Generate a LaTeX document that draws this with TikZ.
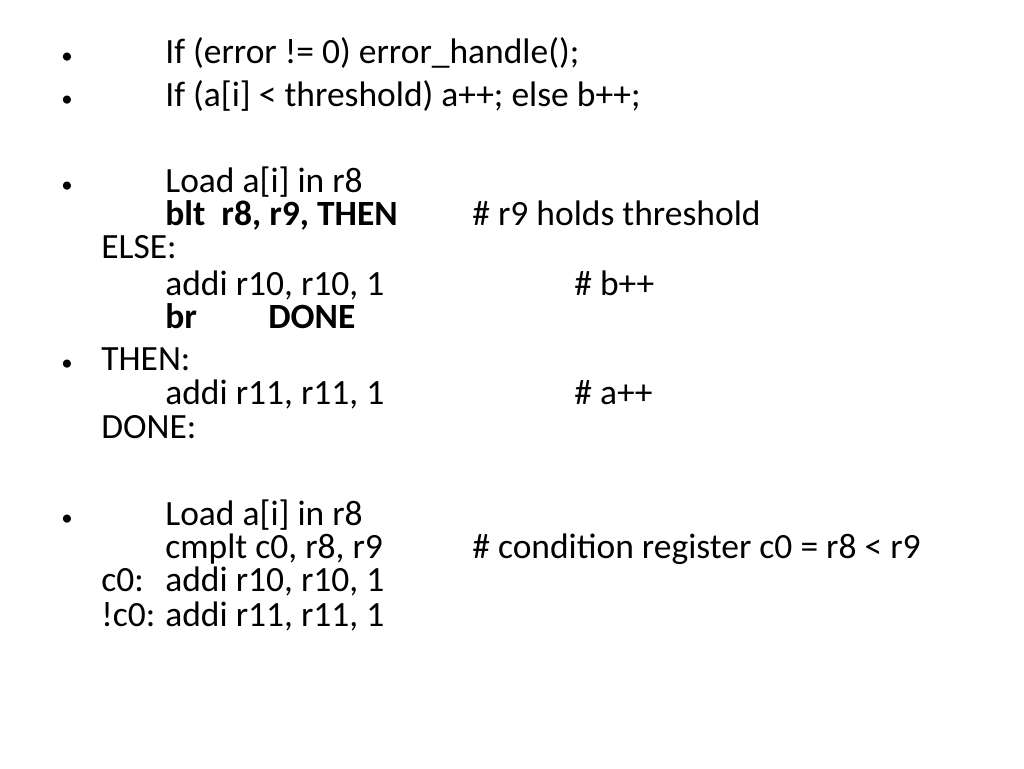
\documentclass[tikz,border=0pt]{standalone}
\usepackage{fontspec}
\setmainfont{Carlito}
\begin{document}
\begin{tikzpicture}[x=0.02cm,y=-0.02cm,
  txt/.style={anchor=base west,inner sep=0pt,font=\fontsize{20.2}{24}\selectfont},
  bul/.style={anchor=base,inner sep=0pt,font=\fontsize{13}{16}\selectfont}]
  \useasboundingbox (0,0) rectangle (1024,768);
  % bullets
  \foreach \y/\n in {63/b1,106/b2,192/b3,370/b4,525/b5}
    \node[bul] (\n) at (67,\y) {\textbullet};
  % first two lines
  \node[txt] (l1) at (165,63) {If (error != 0) error\_handle();};
  \node[txt] (l2) at (165,106) {If (a[i] < threshold) a++; else b++;};
  % branch version
  \node[txt] (ld1) at (165,192) {Load a[i] in r8};
  \node[txt] (blt) at (165,225) {\textbf{blt\ \ r8, r9, THEN}};
  \node[txt] (cm1) at (472,225) {\# r9 holds threshold};
  \node[txt] (else) at (101,258) {ELSE:};
  \node[txt] (ad1) at (165,295) {addi r10, r10, 1};
  \node[txt] (cm2) at (574,295) {\# b++};
  \node[txt] (br) at (165,328) {\textbf{br}};
  \node[txt] (done1) at (268,328) {\textbf{DONE}};
  \node[txt] (then) at (101,370) {THEN:};
  \node[txt] (ad2) at (165,404) {addi r11, r11, 1};
  \node[txt] (cm3) at (574,404) {\# a++};
  \node[txt] (done2) at (101,438) {DONE:};
  % predicated version
  \node[txt] (ld2) at (165,525) {Load a[i] in r8};
  \node[txt] (cmp) at (165,558) {cmplt c0, r8, r9};
  \node[txt] (cm4) at (472,558) {\# condition register c0 = r8 < r9};
  \node[txt] (c0) at (101,591) {c0:};
  \node[txt] (ad3) at (165,591) {addi r10, r10, 1};
  \node[txt] (nc0) at (101,626) {!c0:};
  \node[txt] (ad4) at (165,626) {addi r11, r11, 1};
\end{tikzpicture}
\end{document}
